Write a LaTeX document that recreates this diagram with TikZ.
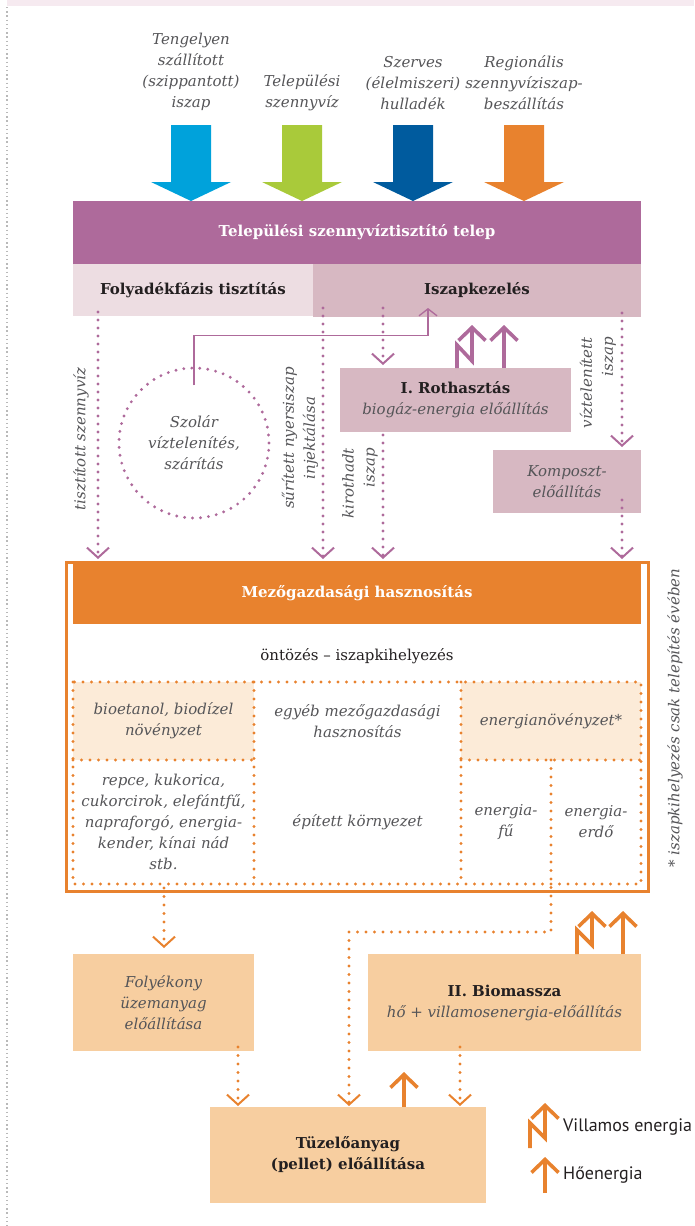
\documentclass[tikz,border=0pt]{standalone}
\usepackage{fontspec}
\setmainfont{DejaVu Serif}
\newfontfamily\legendfont{PT Sans}
\usetikzlibrary{arrows.meta,calc}

\definecolor{plum}{RGB}{174,106,155}
\definecolor{pinklight}{RGB}{237,221,226}
\definecolor{pinkmid}{RGB}{215,184,194}
\definecolor{bandpink}{RGB}{246,234,240}
\definecolor{skyblue}{RGB}{0,162,219}
\definecolor{leaf}{RGB}{169,202,58}
\definecolor{navy}{RGB}{0,91,158}
\definecolor{carrot}{RGB}{232,130,46}
\definecolor{peach}{RGB}{247,206,160}
\definecolor{peachlight}{RGB}{252,235,216}
\definecolor{inkgrey}{RGB}{85,85,88}
\definecolor{ink}{RGB}{35,31,32}

\newcommand\txtit{\fontsize{15}{21}\selectfont\itshape}
\newcommand\txtbf{\fontsize{15}{21}\selectfont\bfseries}
\newcommand\txtrm{\fontsize{15}{21}\selectfont}

\tikzset{
  box/.style={rectangle, inner sep=0pt, outer sep=0pt, anchor=north west, align=center, font=\txtrm},
  lab/.style={inner sep=0pt, align=center, text=inkgrey, font=\txtit},
  headtxt/.style={text=ink, font=\txtbf},
  pdots/.style={draw=plum, line width=3.2pt, line cap=round, dash pattern=on 0pt off 8pt},
  odots/.style={draw=carrot, line width=3.2pt, line cap=round, dash pattern=on 0pt off 8.5pt},
  pflow/.style={pdots, shorten >=3pt, -{Straight Barb[length=10pt,width=22pt,line width=2pt]}},
  oflow/.style={odots, -{Straight Barb[length=10pt,width=22pt,line width=2pt]}},
  energy/.style={line width=3.6pt, line join=miter, -{Straight Barb[length=13pt,width=27pt]}},
}

\begin{document}
\begin{tikzpicture}[x=1pt,y=-1pt]
\useasboundingbox (0,0) rectangle (694,1226);

% page frame
\fill[bandpink] (7,0) rectangle (694,5.7);
\draw[gray!55, line width=1.3pt, dash pattern=on 1.3pt off 2.9pt] (7,7) -- (7,1226);

% column positions of the flows
\coordinate (xTis) at (98,0);
\coordinate (xSur) at (323,0);
\coordinate (xKir) at (383,0);
\coordinate (xViz) at (622,0);
\coordinate (xSol) at (428,0);
\coordinate (xBio) at (164,0);
\coordinate (xFol) at (238,0);
\coordinate (xBm) at (460,0);
\coordinate (xTuz) at (349,0);

% inputs
\node[lab] (src1) at (191,72) {Tengelyen\\szállított\\(szippantott)\\iszap};
\node[lab] (src2) at (302,93) {Települési\\szennyvíz};
\node[lab] (src3) at (413,83) {Szerves\\(élelmiszeri)\\hulladék};
\node[lab] (src4) at (524,83) {Regionális\\szennyvíziszap-\\beszállítás};

% treatment plant
\node[box, fill=plum, minimum width=568pt, minimum height=63pt, text=white, font=\txtbf] (telep) at (73,201) {Települési szennyvíztisztító telep};
\node[box, fill=pinklight, minimum width=240pt, minimum height=52pt, headtxt] (folyadek) at (73,264) {Folyadékfázis tisztítás};
\node[box, fill=pinkmid, minimum width=328pt, minimum height=53pt, headtxt] (iszap) at (313,264) {Iszapkezelés};

\foreach \s/\c in {src1/skyblue, src2/leaf, src3/navy, src4/carrot}
  \fill[\c] (\s |- telep.north) -- ++(40,-19) -- ++(-20,0) -- ++(0,-57) -- ++(-40,0) -- ++(0,57) -- ++(-20,0) -- cycle;

% sludge treatment
\node[box, fill=pinkmid, minimum width=231pt, minimum height=64pt] (rot) at (340,368)
  {{\txtbf\color{ink}I. Rothasztás}\\{\txtit\color{inkgrey}biogáz-energia előállítás}};
\node[box, fill=pinkmid, minimum width=148pt, minimum height=63pt, lab] (komp) at (493,450) {Komposzt-\\előállítás};
\node[circle, pdots, minimum size=150pt, lab] (solar) at (194,443) {Szolár\\víztelenítés,\\szárítás};

% flow labels
\node[lab, rotate=90] (lTis) at (81,439) {tisztított szennyvíz};
\node[lab, rotate=90] (lSur) at (300,438) {sűrített nyersiszap\\injektálása};
\node[lab, rotate=90, anchor=east, align=right] (lKir) at (360,448) {kirothadt\\iszap};
\node[lab, rotate=90, anchor=east, align=right] (lViz) at (598,337) {víztelenített\\iszap};

% agriculture
\node[box, draw=carrot, line width=3pt, minimum width=582pt, minimum height=329pt] (frame) at (66,562) {};
\node[box, fill=carrot, minimum width=568pt, minimum height=62pt, text=white, font=\txtbf] (mezo) at (73,562) {Mezőgazdasági hasznosítás};
\node[font=\txtrm, text=ink] (ontoz) at (357,656) {öntözés – iszapkihelyezés};

\node[box, fill=peachlight, minimum width=181pt, minimum height=78pt, lab] (bio) at (73,682) {bioetanol, biodízel\\növényzet};
\node[box, minimum width=207pt, minimum height=78pt, lab] (egyeb) at (254,682) {egyéb mezőgazdasági\\hasznosítás};
\node[box, fill=peachlight, minimum width=180pt, minimum height=78pt, lab] (enov) at (461,682) {energianövényzet*};
\node[box, minimum width=181pt, minimum height=124pt, lab] (repce) at (73,760) {repce, kukorica,\\cukorcirok, elefántfű,\\napraforgó, energia-\\kender, kínai nád\\stb.};
\node[box, minimum width=207pt, minimum height=124pt, lab] (epit) at (254,760) {épített környezet};
\node[box, minimum width=90pt, minimum height=124pt, lab] (fu) at (461,760) {energia-\\fű};
\node[box, minimum width=90pt, minimum height=124pt, lab] (erdo) at (551,760) {energia-\\erdő};

\draw[odots] (bio.north west) rectangle (erdo.south east);
\draw[odots] (bio.north east) -- (repce.south east);
\draw[odots] (egyeb.north east) -- (epit.south east);
\draw[odots] (bio.south west) -- (bio.south east);
\draw[odots] (enov.south west) -- (enov.south east);

\node[lab, rotate=90] (note) at (675,718) {* iszapkihelyezés csak telepítés évében};

% products
\node[box, fill=peach, minimum width=181pt, minimum height=97pt, lab] (folyek) at (73,954) {Folyékony\\üzemanyag\\előállítása};
\node[box, fill=peach, minimum width=273pt, minimum height=97pt] (biom) at (368,954)
  {{\txtbf\color{ink}II. Biomassza}\\{\txtit\color{inkgrey}hő + villamosenergia-előállítás}};
\node[box, fill=peach, minimum width=276pt, minimum height=96pt, headtxt] (tuz) at (210,1107) {Tüzelőanyag\\(pellet) előállítása};

% sludge flows
\draw[pflow] ($(xTis |- folyadek.south)+(0,-4)$) -- (xTis |- frame.north);
\draw[pflow] ($(xSur |- iszap.south)+(0,-9)$) -- (xSur |- frame.north);
\draw[pflow] ($(xKir |- iszap.south)+(0,-9)$) -- (xKir |- rot.north);
\draw[pflow] ($(xKir |- rot.south)+(0,3)$) -- (xKir |- frame.north);
\draw[pflow] ($(xViz |- iszap.south)+(0,-4)$) -- (xViz |- komp.north);
\draw[pflow] ($(xViz |- komp.south)+(0,-13)$) -- (xViz |- frame.north);
\draw[plum, line width=1.3pt, -{Straight Barb[length=7pt,width=18pt]}]
  ($(solar.north)+(0,19)$) -- ($(solar.north)+(0,-31)$) -| ($(xSol |- iszap.south)+(0,-9)$);

% biomass flows
\draw[oflow, shorten >=6pt] ($(xBio |- repce.south)+(0,4)$) -- (xBio |- folyek.north);
\draw[oflow, shorten >=1pt] (fu.north east) -- ($(fu.south east)+(0,48)$) -| (xTuz |- tuz.north);
\draw[oflow, shorten >=1pt] ($(xFol |- folyek.south)+(0,-4)$) -- (xFol |- tuz.north);
\draw[oflow, shorten >=1pt] ($(xBm |- biom.south)+(0,-4)$) -- (xBm |- tuz.north);

% energy outputs
\draw[energy, plum] ($(rot.north west)+(117,0)$) -- ++(0,-23) -- ++(15,16) -- ++(0,-36);
\draw[energy, plum] ($(rot.north west)+(164,0)$) -- ++(0,-43);
\draw[energy, carrot] ($(biom.north west)+(209,0)$) -- ++(0,-24) -- ++(15,15) -- ++(0,-34);
\draw[energy, carrot] ($(biom.north west)+(255,0)$) -- ++(0,-43);
\draw[energy, carrot] ($(tuz.north west)+(194,0)$) -- ++(0,-35);

% legend
\node[anchor=west, inner sep=0pt, text=ink, font=\legendfont\fontsize{18}{22}\selectfont] (legV) at (563,1127) {Villamos energia};
\node[anchor=west, inner sep=0pt, text=ink, font=\legendfont\fontsize{18}{22}\selectfont] (legH) at (563,1175) {Hőenergia};
\draw[energy, carrot] ($(legV.west)+(-33,21)$) -- ++(0,-25) -- ++(15,15) -- ++(0,-35);
\draw[energy, carrot] ($(legH.west)+(-18,18)$) -- ++(0,-36);
\end{tikzpicture}
\end{document}
